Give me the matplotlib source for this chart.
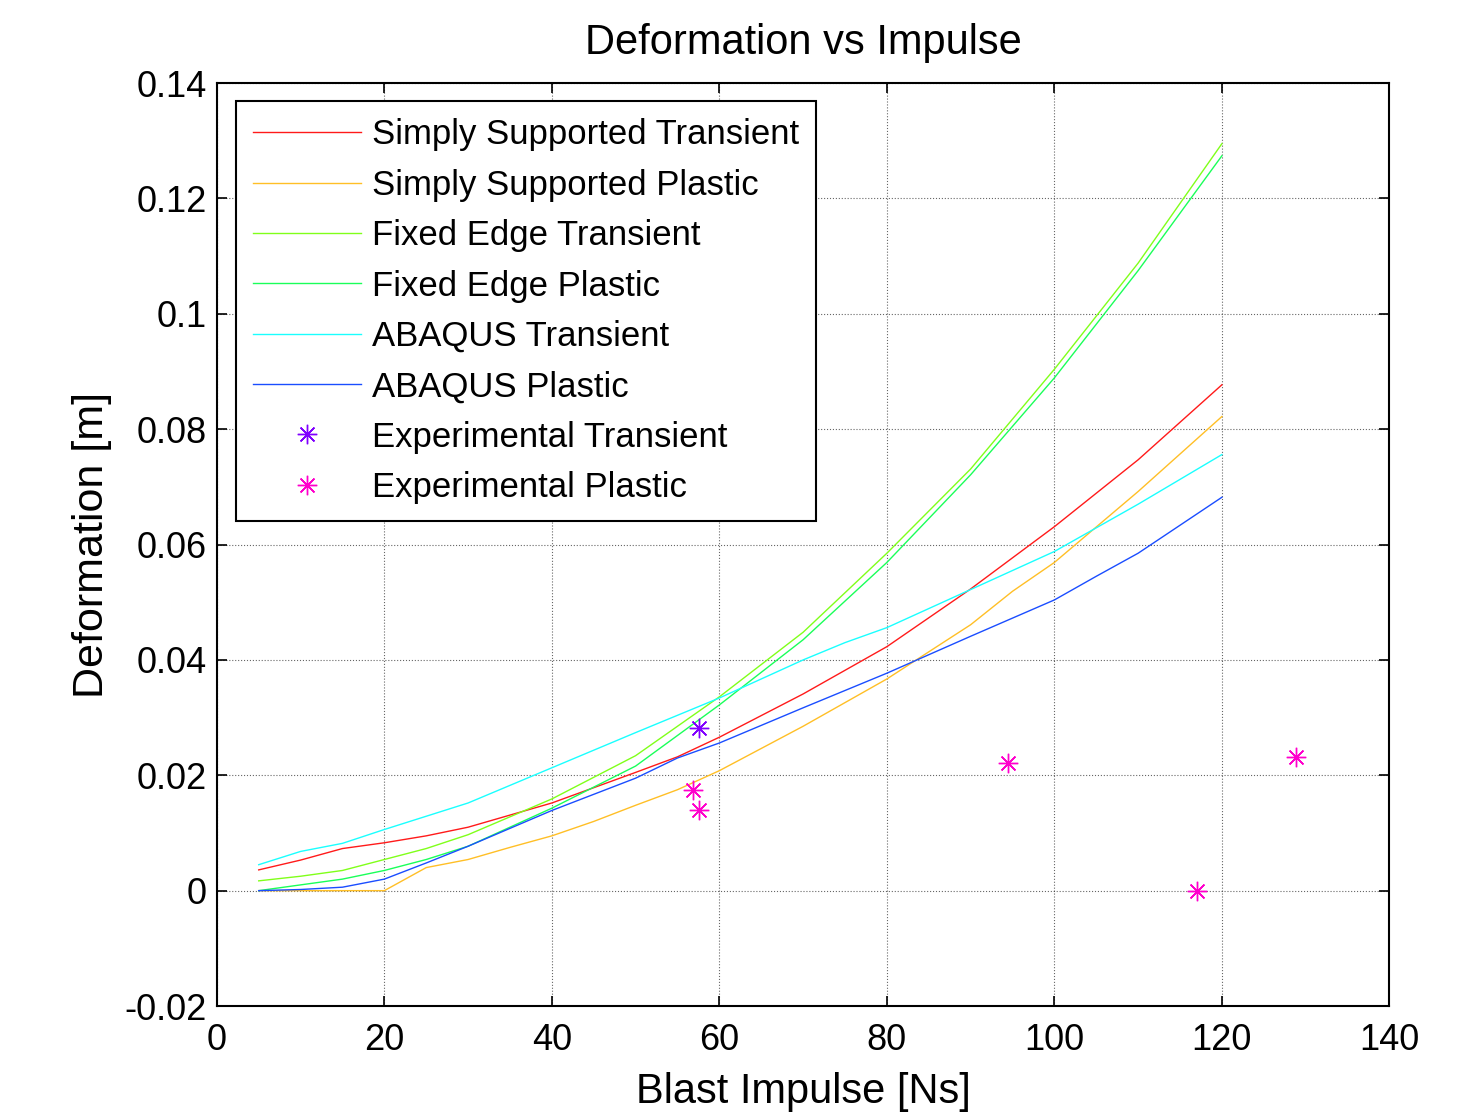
import matplotlib
matplotlib.use("Agg")
import matplotlib.pyplot as plt

plt.rcParams["font.family"] = ["Liberation Sans", "DejaVu Sans"]

# ---- data ----
ss_trans_x = [5, 10, 15, 20, 25, 30, 40, 50, 55, 60, 70, 80, 90, 100, 110, 120]
ss_trans_y = [0.0036, 0.0053, 0.0073, 0.0083, 0.0095, 0.0110, 0.0152, 0.0205,
              0.0232, 0.0266, 0.0341, 0.0423, 0.0523, 0.0631, 0.0747, 0.0877]

ss_plast_x = [5, 10, 15, 20, 25, 30, 35, 40, 45, 50, 55, 60, 70, 80, 90, 95, 100, 110, 120]
ss_plast_y = [0.0, 0.0, 0.0, 0.0, 0.0040, 0.0054, 0.0075, 0.0095, 0.0120, 0.0148,
              0.0175, 0.0208, 0.0285, 0.0367, 0.0461, 0.0519, 0.0569, 0.0692, 0.0822]

fe_trans_x = [5, 10, 15, 20, 25, 30, 40, 50, 60, 70, 80, 90, 100, 110, 120]
fe_trans_y = [0.0017, 0.0025, 0.0035, 0.0054, 0.0073, 0.0097, 0.0159, 0.0234,
              0.0336, 0.0448, 0.0585, 0.0731, 0.0904, 0.1088, 0.1295]

fe_plast_x = [5, 10, 15, 20, 25, 30, 40, 50, 60, 70, 80, 90, 100, 110, 120]
fe_plast_y = [0.0, 0.0010, 0.0020, 0.0035, 0.0054, 0.0077, 0.0143, 0.0216,
              0.0322, 0.0435, 0.0569, 0.0721, 0.0889, 0.1075, 0.1274]

ab_trans_x = [5, 10, 15, 20, 25, 30, 40, 50, 60, 70, 75, 80, 90, 100, 110, 120]
ab_trans_y = [0.0045, 0.0068, 0.0082, 0.0106, 0.0129, 0.0152, 0.0213, 0.0274,
              0.0334, 0.0400, 0.0430, 0.0456, 0.0522, 0.0588, 0.0670, 0.0756]

ab_plast_x = [5, 10, 15, 20, 25, 30, 40, 50, 55, 60, 70, 80, 90, 100, 105, 110, 120]
ab_plast_y = [0.0, 0.0002, 0.0006, 0.0020, 0.0048, 0.0077, 0.0139, 0.0195,
              0.0230, 0.0256, 0.0317, 0.0377, 0.0441, 0.0504, 0.0545, 0.0585, 0.0682]

exp_trans_x = [57.6]
exp_trans_y = [0.0282]

exp_plast_x = [56.9, 57.6, 94.4, 117.0, 128.9]
exp_plast_y = [0.0175, 0.0139, 0.0222, 0.0, 0.0232]

fig = plt.figure(figsize=(14.75, 11.12), dpi=100)
ax = fig.add_axes([0.147, 0.0953, 0.795, 0.830])

lw = 1.0
ax.plot(ss_trans_x, ss_trans_y, color="#ff1a1a", lw=lw, label="Simply Supported Transient")
ax.plot(ss_plast_x, ss_plast_y, color="#ffbf26", lw=lw, label="Simply Supported Plastic")
ax.plot(fe_trans_x, fe_trans_y, color="#80ff1a", lw=lw, label="Fixed Edge Transient")
ax.plot(fe_plast_x, fe_plast_y, color="#1aff59", lw=lw, label="Fixed Edge Plastic")
ax.plot(ab_trans_x, ab_trans_y, color="#1affff", lw=lw, label="ABAQUS Transient")
ax.plot(ab_plast_x, ab_plast_y, color="#1a4dff", lw=lw, label="ABAQUS Plastic")

star = (8, 2, 0)
ax.plot(exp_trans_x, exp_trans_y, ls="none", marker=star, ms=14, mew=1.0,
        color="#8000ff", label="Experimental Transient")
ax.plot(exp_plast_x, exp_plast_y, ls="none", marker=star, ms=14, mew=1.0,
        color="#ff00cc", label="Experimental Plastic")

ax.set_xlim(0, 140)
ax.set_ylim(-0.02, 0.14)
ax.set_xticks(range(0, 141, 20))
ax.set_yticks([-0.02, 0, 0.02, 0.04, 0.06, 0.08, 0.1, 0.12, 0.14])
ax.set_yticklabels(["-0.02", "0", "0.02", "0.04", "0.06", "0.08", "0.1", "0.12", "0.14"])

ax.grid(True, color="black", ls=":", lw=0.8, alpha=0.6)
ax.tick_params(direction="in", top=True, right=True, length=7, width=1.2,
               labelsize=26)
ax.tick_params(axis="x", pad=12)
ax.tick_params(axis="y", pad=7)
for s in ax.spines.values():
    s.set_linewidth(1.5)

ax.set_title("Deformation vs Impulse", fontsize=30, pad=21)
ax.set_xlabel("Blast Impulse [Ns]", fontsize=30, labelpad=10)
ax.set_ylabel("Deformation [m]", fontsize=31, labelpad=9)

leg = ax.legend(loc="upper left", bbox_to_anchor=(0.016, 0.9805), borderaxespad=0,
                fontsize=25, handlelength=3.1, handletextpad=0.32, numpoints=1,
                labelspacing=0.5, borderpad=0.5, fancybox=False, framealpha=1,
                edgecolor="black")
leg.get_frame().set_linewidth(1.5)

fig.savefig("out.png", dpi=100)
